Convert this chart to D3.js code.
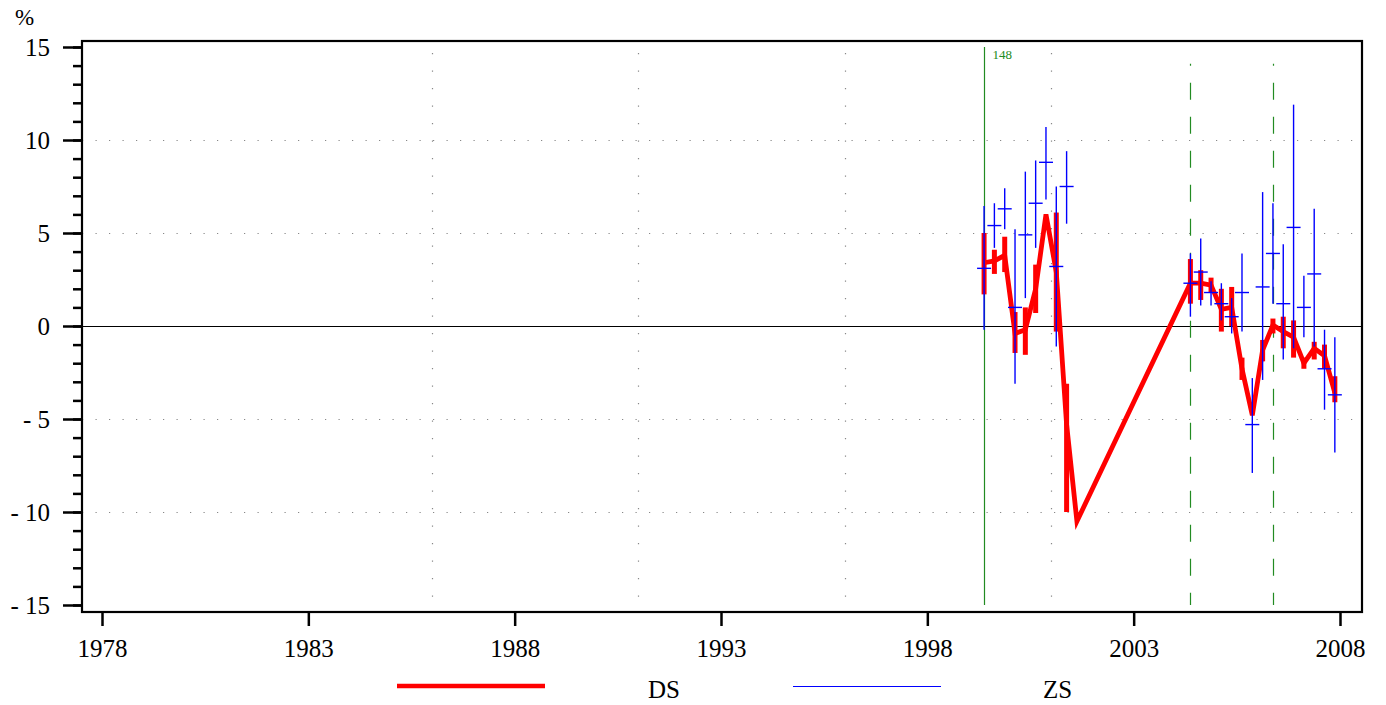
<!DOCTYPE html>
<html><head><meta charset="utf-8">
<script src="https://cdn.jsdelivr.net/npm/d3@7/dist/d3.min.js"></script>
<style>
body{margin:0;background:#fff}
svg{display:block}
</style>
</head><body>
<svg id="c" width="1386" height="705"></svg>
<script>
// ---------- data ----------
const dsPeriods = ["1999Q2","1999Q3","1999Q4","2000Q1","2000Q2","2000Q3","2000Q4","2001Q1","2001Q2","2001Q3",
  "2004Q2","2004Q3","2004Q4","2005Q1","2005Q2","2005Q3","2005Q4","2006Q1","2006Q2","2006Q3","2006Q4",
  "2007Q1","2007Q2","2007Q3","2007Q4"];
const dsValues = [3.4,3.5,3.8,-0.4,-0.2,2.0,6.0,2.9,-5.3,-10.5,
  2.3,2.3,2.2,0.9,1.0,-2.3,-4.8,-1.3,0.05,-0.3,-0.6,-2.0,-1.2,-1.6,-3.6];
const dsHigh = [5.0,4.1,4.8,0.75,1.0,3.3,6.0,6.1,-3.1,-10.5,
  3.6,3.0,2.6,2.0,2.1,-1.7,-4.8,-0.75,0.4,0.5,0.3,-1.7,-0.85,-1.0,-2.7];
const dsLow = [1.7,2.8,2.9,-1.45,-1.55,0.7,6.0,-0.3,-10.0,-10.5,
  1.2,1.4,1.8,-0.3,0.0,-2.9,-4.8,-1.9,-0.4,-1.2,-1.7,-2.3,-1.8,-2.3,-4.1];

const zsPeriods = ["1999Q2","1999Q3","1999Q4","2000Q1","2000Q2","2000Q3","2000Q4","2001Q1","2001Q2",
  "2004Q2","2004Q3","2004Q4","2005Q1","2005Q2","2005Q3","2005Q4","2006Q1","2006Q2","2006Q3","2006Q4",
  "2007Q1","2007Q2","2007Q3","2007Q4"];
const zsValues = [3.1,5.4,6.3,1.0,4.9,6.6,8.8,3.2,7.5,
  2.3,2.9,1.8,1.2,0.5,1.8,-5.3,2.1,3.9,1.2,5.3,1.0,2.8,-2.3,-3.7];
const zsHigh = [6.45,6.6,7.4,5.2,8.3,8.9,10.7,7.5,9.4,
  3.9,4.7,2.4,2.3,1.5,3.9,-2.8,7.2,6.6,4.4,11.9,2.7,6.3,-0.2,-0.6];
const zsLow = [-0.2,4.2,5.2,-3.1,1.5,4.2,6.8,-1.1,5.5,
  0.5,1.1,1.1,0.3,-0.4,-0.3,-7.9,-2.9,1.2,-1.8,-1.2,-0.6,-1.1,-4.5,-6.8];

const markerPeriods = ["1999Q2","2004Q2","2006Q2"];
const markerLabels = ["148","",""];
const markerSolid = [true,false,false];
const markerTop = [15,14.1,14.1];

const xTicks = [1978,1983,1988,1993,1998,2003,2008];
const yTicks = [-15,-10,-5,0,5,10,15];
const yGrid = [-10,-5,5,10];
const xGrid = [1986,1991,1996,2001];
const seriesNames = ["DS","ZS"];
const yUnit = "%";

// ---------- helpers ----------
const FONT = '"Liberation Serif", "Times New Roman", Times, "Nimbus Roman", "DejaVu Serif", serif';
const toYear = p => +p.slice(0,4) + (+p.slice(5) - 0.5) / 4;

const svg = d3.select("#c");
const x = d3.scaleLinear().domain([1978, 2008]).range([102, 1340]);
const y = d3.scaleLinear().domain([-15, 15]).range([605, 47]);
const frame = {left: 82, right: 1362, top: 41, bottom: 612};

// grid
const g = svg.append("g");
g.selectAll(".hg").data(yGrid).join("line")
  .attr("x1", frame.left).attr("x2", frame.right)
  .attr("y1", d => Math.round(y(d)) + 0.5).attr("y2", d => Math.round(y(d)) + 0.5)
  .attr("stroke", "#888").attr("stroke-width", 1.2).attr("stroke-dasharray", "1.2,12.3");
g.selectAll(".vg").data(xGrid).join("line")
  .attr("x1", d => Math.round(x(d)) + 0.5).attr("x2", d => Math.round(x(d)) + 0.5)
  .attr("y1", frame.top + 12).attr("y2", frame.bottom)
  .attr("stroke", "#888").attr("stroke-width", 1.2).attr("stroke-dasharray", "1.2,16.3");

// zero line
svg.append("line").attr("x1", frame.left).attr("x2", frame.right)
  .attr("y1", Math.round(y(0)) + 0.5).attr("y2", Math.round(y(0)) + 0.5)
  .attr("stroke", "#000").attr("stroke-width", 1);

// markers
markerPeriods.forEach((p, i) => {
  const xx = Math.round(x(toYear(p))) + 0.5;
  svg.append("line").attr("x1", xx).attr("x2", xx)
    .attr("y1", y(markerTop[i])).attr("y2", y(-15))
    .attr("stroke", "#228b22").attr("stroke-width", 1.2)
    .attr("stroke-dasharray", markerSolid[i] ? null : "17,17")
    .attr("stroke-dashoffset", markerSolid[i] ? null : 15);
  if (markerLabels[i]) {
    svg.append("text").attr("x", xx + 8).attr("y", y(14.6) + 4.5)
      .style("font-family", FONT).style("font-size", "13px").style("fill", "#228b22")
      .text(markerLabels[i]);
  }
});

// DS series
const ds = dsPeriods.map((p, i) => ({x: toYear(p), v: dsValues[i], lo: dsLow[i], hi: dsHigh[i]}));
svg.append("g").selectAll("line").data(ds.filter(d => d.hi > d.lo)).join("line")
  .attr("x1", d => x(d.x)).attr("x2", d => x(d.x))
  .attr("y1", d => y(d.hi)).attr("y2", d => y(d.lo))
  .attr("stroke", "#ff0000").attr("stroke-width", 5);
svg.append("path").datum(ds)
  .attr("d", d3.line().x(d => x(d.x)).y(d => y(d.v)))
  .attr("fill", "none").attr("stroke", "#ff0000").attr("stroke-width", 4.8)
  .attr("stroke-linejoin", "miter");

// ZS series
const zs = zsPeriods.map((p, i) => ({x: toYear(p), v: zsValues[i], lo: zsLow[i], hi: zsHigh[i]}));
const zg = svg.append("g");
zg.selectAll(".zb").data(zs).join("line")
  .attr("x1", d => x(d.x)).attr("x2", d => x(d.x))
  .attr("y1", d => y(d.hi)).attr("y2", d => y(d.lo))
  .attr("stroke", "#0000ff").attr("stroke-width", 1.4);
zg.selectAll(".zt").data(zs).join("line")
  .attr("x1", d => x(d.x) - 7).attr("x2", d => x(d.x) + 7)
  .attr("y1", d => y(d.v)).attr("y2", d => y(d.v))
  .attr("stroke", "#0000ff").attr("stroke-width", 1.4);

// frame
svg.append("rect").attr("x", frame.left).attr("y", frame.top)
  .attr("width", frame.right - frame.left).attr("height", frame.bottom - frame.top)
  .attr("fill", "none").attr("stroke", "#000").attr("stroke-width", 2.2);

// axes
const fmt = d => d < 0 ? "- " + (-d) : String(d);
const yMinor = svg.append("g").attr("transform", `translate(${frame.left},0)`)
  .call(d3.axisLeft(y).tickValues(d3.range(-15, 16, 1)).tickSize(9).tickFormat(""));
const yAx = svg.append("g").attr("transform", `translate(${frame.left},0)`)
  .call(d3.axisLeft(y).tickValues(yTicks).tickSize(19).tickPadding(13).tickFormat(fmt));
const xAx = svg.append("g").attr("transform", `translate(0,${frame.bottom})`)
  .call(d3.axisBottom(x).tickValues(xTicks).tickSize(14).tickPadding(13).tickFormat(d3.format("d")));
[yMinor, yAx, xAx].forEach(a => {
  a.attr("font-family", null).attr("font-size", null);
  a.select(".domain").remove();
  a.selectAll("line").attr("stroke", "#000").attr("stroke-width", 2.5);
  a.selectAll("text").style("font-family", FONT).style("font-size", "25px").style("fill", "#000");
});

// unit
svg.append("text").attr("x", 15).attr("y", 25)
  .style("font-family", FONT).style("font-size", "23px").text(yUnit);

// legend
const lg = svg.append("g");
lg.append("line").attr("x1", 397).attr("x2", 545).attr("y1", 686).attr("y2", 686)
  .attr("stroke", "#ff0000").attr("stroke-width", 4.5);
lg.append("text").attr("x", 648).attr("y", 698)
  .style("font-family", FONT).style("font-size", "25px").text(seriesNames[0]);
lg.append("line").attr("x1", 793).attr("x2", 941).attr("y1", 686.5).attr("y2", 686.5)
  .attr("stroke", "#0000ff").attr("stroke-width", 1.2);
lg.append("text").attr("x", 1043).attr("y", 698)
  .style("font-family", FONT).style("font-size", "25px").text(seriesNames[1]);
</script>
</body></html>
